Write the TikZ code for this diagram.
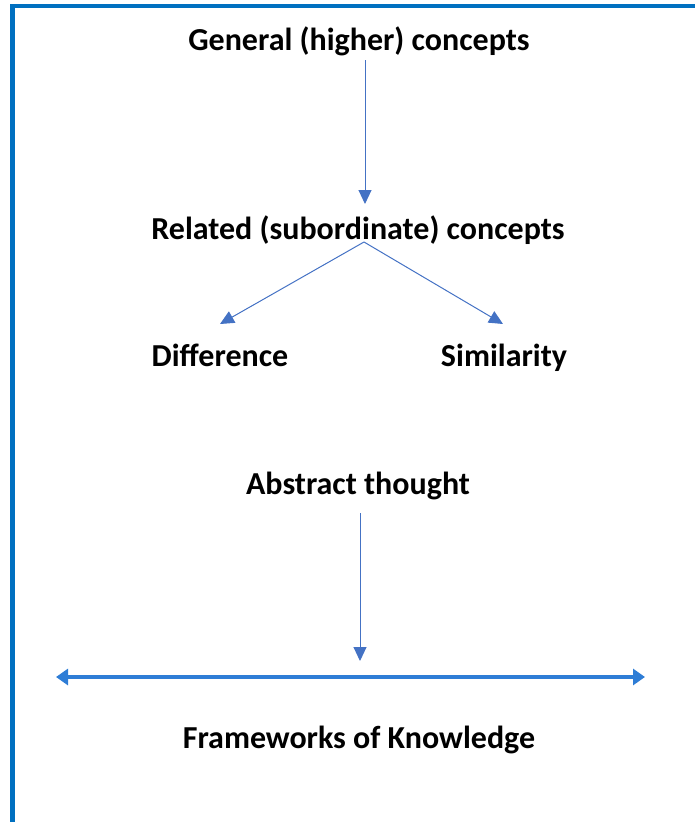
\documentclass[tikz,border=0pt]{standalone}
\usepackage{fontspec}
\setmainfont{Carlito}
\usetikzlibrary{arrows.meta}
\definecolor{frameblue}{HTML}{0070C0}
\definecolor{arrowblue}{HTML}{4472C4}
\definecolor{lineblue}{HTML}{2E7DD6}
\tikzset{
  lbl/.style={font=\bfseries\fontsize{32}{36}\selectfont, text=black, inner sep=0pt, anchor=base},
  conn/.style={draw=arrowblue, line width=1pt, -{Triangle[width=13pt,length=14pt]}},
  dbl/.style={draw=lineblue, line width=4pt, {Triangle[width=16pt,length=12pt]}-{Triangle[width=16pt,length=12pt]}}
}
\begin{document}
\begin{tikzpicture}[x=1pt,y=-1pt]
\useasboundingbox (0,0) rectangle (695,822);
\clip (0,0) rectangle (695,822);
\draw[frameblue, line width=4.5pt] (12.5,6) rectangle (740,870);
\node[lbl] (gen) at (359,50) {General (higher) concepts};
\node[lbl] (rel) at (358,239) {Related (subordinate) concepts};
\node[lbl] (dif) at (220,366) {Difference};
\node[lbl] (sim) at (504,366) {Similarity};
\node[lbl] (abs) at (358,494) {Abstract thought};
\node[lbl] (frm) at (359,748) {Frameworks of Knowledge};
\coordinate (g1) at (365,60);
\coordinate (g2) at (365,204);
\coordinate (r0) at (364,242);
\coordinate (dl) at (220,324);
\coordinate (dr) at (503,324);
\coordinate (a1) at (360,513);
\coordinate (a2) at (360,661);
\coordinate (hl) at (56,677);
\coordinate (hr) at (645,677);
\draw[conn] (g1) -- (g2);
\draw[conn] (r0) -- (dl);
\draw[conn] (r0) -- (dr);
\draw[conn] (a1) -- (a2);
\draw[dbl] (hl) -- (hr);
\end{tikzpicture}
\end{document}
